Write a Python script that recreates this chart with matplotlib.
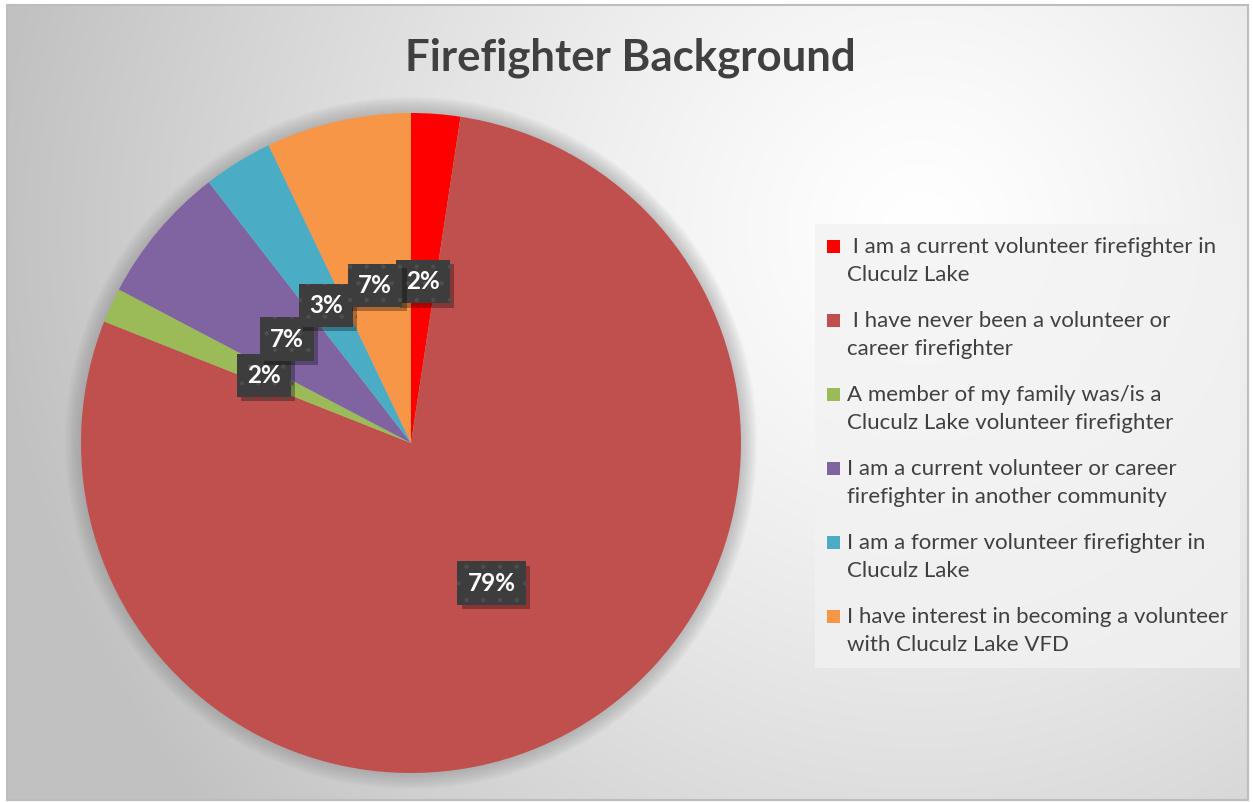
import numpy as np
import matplotlib
matplotlib.use("Agg")
import matplotlib.pyplot as plt
from matplotlib.patches import Rectangle, Circle
import matplotlib.patheffects as pe

# data (percent of respondents)
categories = [
    " I am a current volunteer firefighter in\nCluculz Lake",
    " I have never been a volunteer or\ncareer firefighter",
    "A member of my family was/is a\nCluculz Lake volunteer firefighter",
    "I am a current volunteer or career\nfirefighter in another community",
    "I am a former volunteer firefighter in\nCluculz Lake",
    "I have interest in becoming a volunteer\nwith Cluculz Lake VFD",
]
values = [2.4, 78.6, 1.7, 6.8, 3.4, 7.1]
colors = ["#ff0000", "#c0504d", "#9bbb59", "#8064a2", "#4bacc6", "#f79646"]
title = "Firefighter Background"

W, H = 1253, 802
plt.rcParams["font.family"] = ["Lato", "DejaVu Sans"]
plt.rcParams["hatch.linewidth"] = 0.7
fig = plt.figure(figsize=(W / 100, H / 100), dpi=100)

# radial gradient background inside the chart frame
bg = fig.add_axes([0, 0, 1, 1])
yy, xx = np.mgrid[0:H, 0:W]
d = np.hypot(xx - 920, yy - 230) / 920
shade = 1 - 0.24 * np.clip(d, 0, 1) ** 1.3
img = np.dstack([shade] * 3)
img[:5, :] = 1
img[800:, :] = 1
img[:, :7] = 1
img[:, 1249:] = 1
bg.imshow(img, extent=[0, W, H, 0], aspect="auto", interpolation="bilinear")
bg.add_patch(Rectangle((7, 5), 1241, 795, fill=False, edgecolor="#bdbdbd", lw=1.5))
bg.set_xlim(0, W)
bg.set_ylim(H, 0)
bg.axis("off")

fig.text(630 / W, 1 - 58 / H, title, ha="center", va="center",
         fontsize=31.5, fontweight="bold", color="#404040")

# pie
cx, cy, r = 411, 443, 330
ax = fig.add_axes([(cx - r * 1.05) / W, (H - cy - r * 1.05) / H,
                   2.1 * r / W, 2.1 * r / H])
for k in range(8):
    ax.add_patch(Circle((0, 0), 1.0 + 0.006 * (k + 1), color="#808080",
                        alpha=0.06, lw=0, zorder=0))
wedges, texts, autotexts = ax.pie(
    values, colors=colors, startangle=90, counterclock=False,
    autopct=lambda p: "%d%%" % round(p), pctdistance=0.49,
    wedgeprops=dict(linewidth=0),
)
for t in autotexts:
    t.set_color("white")
    t.set_fontsize(17.5)
    t.set_fontweight("bold")
    t.set_bbox(dict(boxstyle="square,pad=0.42", facecolor="#3d3d3d",
                    edgecolor="#4e4e4e", linewidth=0, hatch="."))
    t.get_bbox_patch().set_path_effects(
        [pe.SimplePatchShadow(offset=(3, -3), shadow_rgbFace="black", alpha=0.3),
         pe.Normal()])
ax.set_xlim(-1.05, 1.05)
ax.set_ylim(-1.05, 1.05)
ax.set_aspect("equal")
ax.axis("off")

# legend box
bg.add_patch(Rectangle((815, 224), 425, 444, facecolor="#f2f2f2",
                       edgecolor="none", alpha=0.75, zorder=3))
y0, step, line = 247, 74, 28
for i, (lab, c) in enumerate(zip(categories, colors)):
    y = y0 + i * step
    bg.add_patch(Rectangle((827, y - 7), 13, 13, facecolor=c,
                           edgecolor="none", zorder=4))
    first, second = lab.split("\n")
    bg.text(847, y, first, fontsize=16, color="#404040", va="center", zorder=5)
    bg.text(847, y + line, second, fontsize=16, color="#404040", va="center", zorder=5)

fig.savefig("out.png", dpi=100)
